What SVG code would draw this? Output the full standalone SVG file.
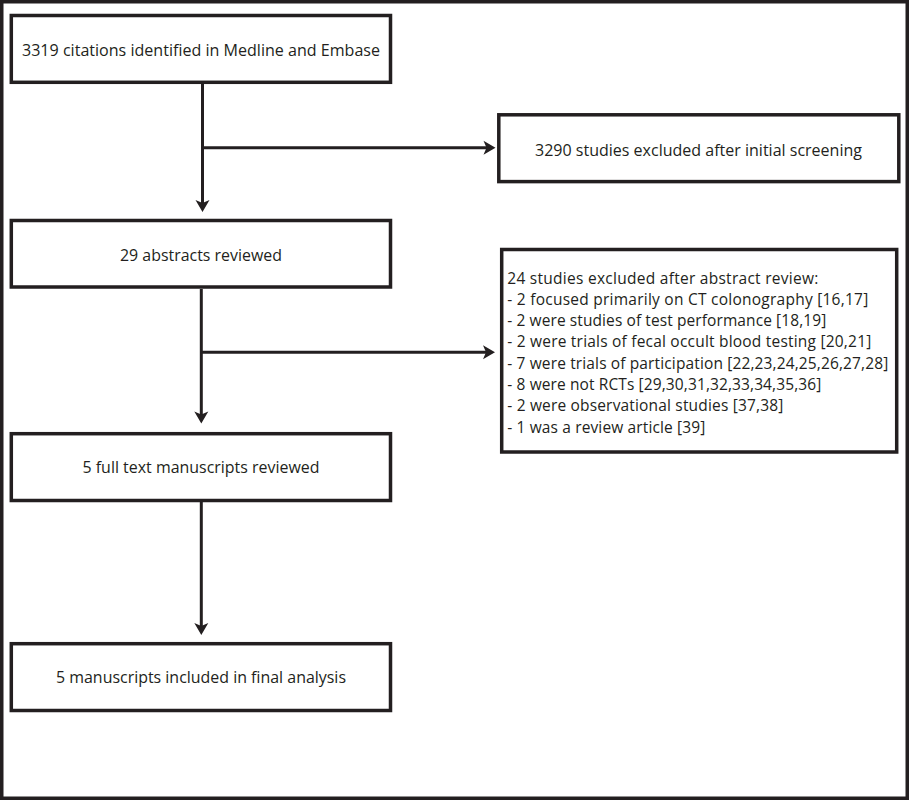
<svg xmlns="http://www.w3.org/2000/svg" width="909" height="800" viewBox="0 0 909 800">
<style>
.box{fill:#fff;stroke:#231f20;stroke-width:3.5}
.frame{fill:#fff;stroke:#231f20;stroke-width:3.5}
.conn{fill:none;stroke:#231f20;stroke-width:3}
text{font-family:"Open Sans","Liberation Sans",Arial,sans-serif;font-size:17px;fill:#231f20}
.c{text-anchor:middle}
.l{font-size:15.5px}
</style>
<defs>
<marker id="arr" markerUnits="userSpaceOnUse" markerWidth="20" markerHeight="20" viewBox="-6 -10 16 20" refX="0" refY="0" orient="auto">
<path d="M-4,-7 L8,0 L-4,7 L-1,0 Z" fill="#231f20"/>
</marker>
</defs>
<rect class="frame" x="1.75" y="1.75" width="905.5" height="796.5"/>
<g id="connectors">
<path class="conn" d="M202.5,84 L202.5,204" marker-end="url(#arr)"/>
<path class="conn" d="M202.5,147.7 L487.5,147.7" marker-end="url(#arr)"/>
<path class="conn" d="M201.3,289 L201.3,415.5" marker-end="url(#arr)"/>
<path class="conn" d="M201.3,352.3 L487,352.3" marker-end="url(#arr)"/>
<path class="conn" d="M201.3,502 L201.3,627" marker-end="url(#arr)"/>
</g>
<g id="n1">
<rect class="box" x="11.3" y="15.5" width="379.2" height="66.8"/>
<text class="c" x="201" y="55.5" textLength="358" lengthAdjust="spacingAndGlyphs">3319 citations identified in Medline and Embase</text>
</g>
<g id="n2">
<rect class="box" x="11.3" y="220.5" width="379.2" height="66.5"/>
<text class="c" x="201" y="260.5" textLength="162" lengthAdjust="spacingAndGlyphs">29 abstracts reviewed</text>
</g>
<g id="n3">
<rect class="box" x="11.3" y="433.7" width="379.2" height="66.8"/>
<text class="c" x="201" y="473" textLength="237" lengthAdjust="spacingAndGlyphs">5 full text manuscripts reviewed</text>
</g>
<g id="n4">
<rect class="box" x="11.3" y="643.7" width="379.2" height="66.8"/>
<text class="c" x="201" y="683" textLength="290" lengthAdjust="spacingAndGlyphs">5 manuscripts included in final analysis</text>
</g>
<g id="r1">
<rect class="box" x="498.8" y="114.8" width="400" height="66.8"/>
<text class="c" x="698.5" y="156" textLength="327" lengthAdjust="spacingAndGlyphs">3290 studies excluded after initial screening</text>
</g>
<g id="r2">
<rect class="box" x="501.7" y="249.5" width="395" height="202.5"/>
<text class="l" x="507.3" y="283.5" textLength="311">24 studies excluded after abstract review:</text>
<text class="l" x="507.3" y="304.8" textLength="361">- 2 focused primarily on CT colonography [16,17]</text>
<text class="l" x="507.3" y="326.1" textLength="319">- 2 were studies of test performance [18,19]</text>
<text class="l" x="507.3" y="347.4" textLength="364">- 2 were trials of fecal occult blood testing [20,21]</text>
<text class="l" x="507.3" y="368.7" textLength="381">- 7 were trials of participation [22,23,24,25,26,27,28]</text>
<text class="l" x="507.3" y="390" textLength="314">- 8 were not RCTs [29,30,31,32,33,34,35,36]</text>
<text class="l" x="507.3" y="411.3" textLength="276">- 2 were observational studies [37,38]</text>
<text class="l" x="507.3" y="432.6" textLength="198">- 1 was a review article [39]</text>
</g>
</svg>
